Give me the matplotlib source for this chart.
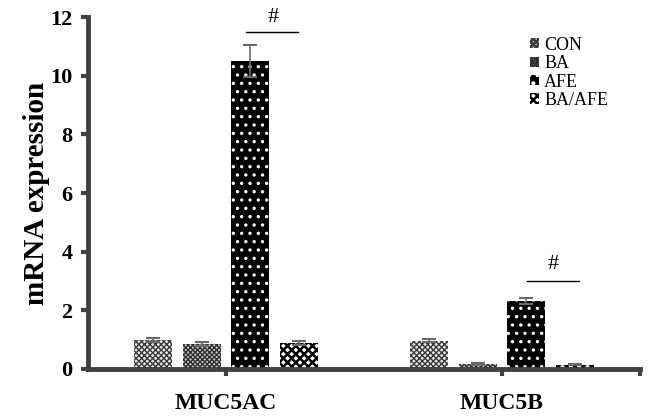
import matplotlib

matplotlib.use("Agg")
import matplotlib.pyplot as plt
import numpy as np
from matplotlib.patches import Patch

genes = ["MUC5AC", "MUC5B"]
groups = ["CON", "BA", "AFE", "BA/AFE"]
means = {
    "CON": [0.99, 0.97],
    "BA": [0.85, 0.17],
    "AFE": [10.5, 2.32],
    "BA/AFE": [0.89, 0.15],
}
errors = {
    "CON": [0.06, 0.06],
    "BA": [0.06, 0.03],
    "AFE": [0.53, 0.10],
    "BA/AFE": [0.06, 0.03],
}
y_ticks = [0, 2, 4, 6, 8, 10, 12]

# (facecolor, hatch colour, hatch, hatch linewidth)
styles = {
    "CON": ("#e6e6e6", "#3a3a3a", "xxxxxx", 1.0),
    "BA": ("#c8c8c8", "#303030", "xxxxxxx", 1.0),
    "AFE": ("black", "white", "..", 1.2),
    "BA/AFE": ("white", "black", "xxxx", 1.8),
}

plt.rcParams["font.family"] = ["Liberation Serif", "DejaVu Serif"]

fig = plt.figure(figsize=(6.49, 4.17), dpi=100)
ax = fig.add_axes([88 / 649, 1 - 369 / 417, 552 / 649, 352 / 417])

x = np.arange(len(genes))
pitch = 0.176
width = 0.138
axis_col = "#404040"

handles = []
for i, g in enumerate(groups):
    fc, hc, hatch, hlw = styles[g]
    plt.rcParams["hatch.linewidth"] = hlw
    pos = x + (i - 1.5) * pitch
    ax.bar(pos, means[g], width=width, color=fc, edgecolor=hc, hatch=hatch,
           linewidth=0, zorder=2)
    ax.errorbar(pos, means[g], yerr=errors[g], fmt="none", ecolor="#6a6a6a",
                elinewidth=1.2, capsize=5, capthick=1.5, zorder=3)
    handles.append(Patch(facecolor=fc, edgecolor=hc, hatch=hatch, linewidth=0))

# significance markers
ax.plot([0.072, 0.26], [11.5, 11.5], color="black", lw=1.0)
ax.text(0.17, 11.97, "#", ha="center", va="center", fontsize=16)
ax.plot([1.09, 1.28], [3.0, 3.0], color="black", lw=1.0)
ax.text(1.185, 3.55, "#", ha="center", va="center", fontsize=16)

ax.set_xlim(-0.5, 1.5)
ax.set_ylim(0, 12)
ax.set_yticks(y_ticks)
ax.set_yticklabels([str(t) for t in y_ticks], fontsize=16, fontweight="bold")
ax.set_xticks(x)
ax.set_xticklabels(genes, fontsize=17, fontweight="bold")
ax.set_xticks([1.5], minor=True)
ax.set_ylabel("mRNA expression", fontsize=21, fontweight="bold", labelpad=0)

for s in ["top", "right"]:
    ax.spines[s].set_visible(False)
for s in ["left", "bottom"]:
    ax.spines[s].set_color(axis_col)
    ax.spines[s].set_linewidth(3.5)
ax.tick_params(axis="both", which="both", direction="out", length=5, width=3,
               color=axis_col)
ax.tick_params(axis="x", pad=12)
ax.tick_params(axis="y", pad=6)

ax.legend(handles, groups, loc="upper left", bbox_to_anchor=(0.80, 0.944),
          frameon=False, fontsize=13, handlelength=0.5, handleheight=0.5,
          handletextpad=0.3, labelspacing=0.08, borderpad=0, borderaxespad=0)

fig.savefig("out.png", dpi=100)
